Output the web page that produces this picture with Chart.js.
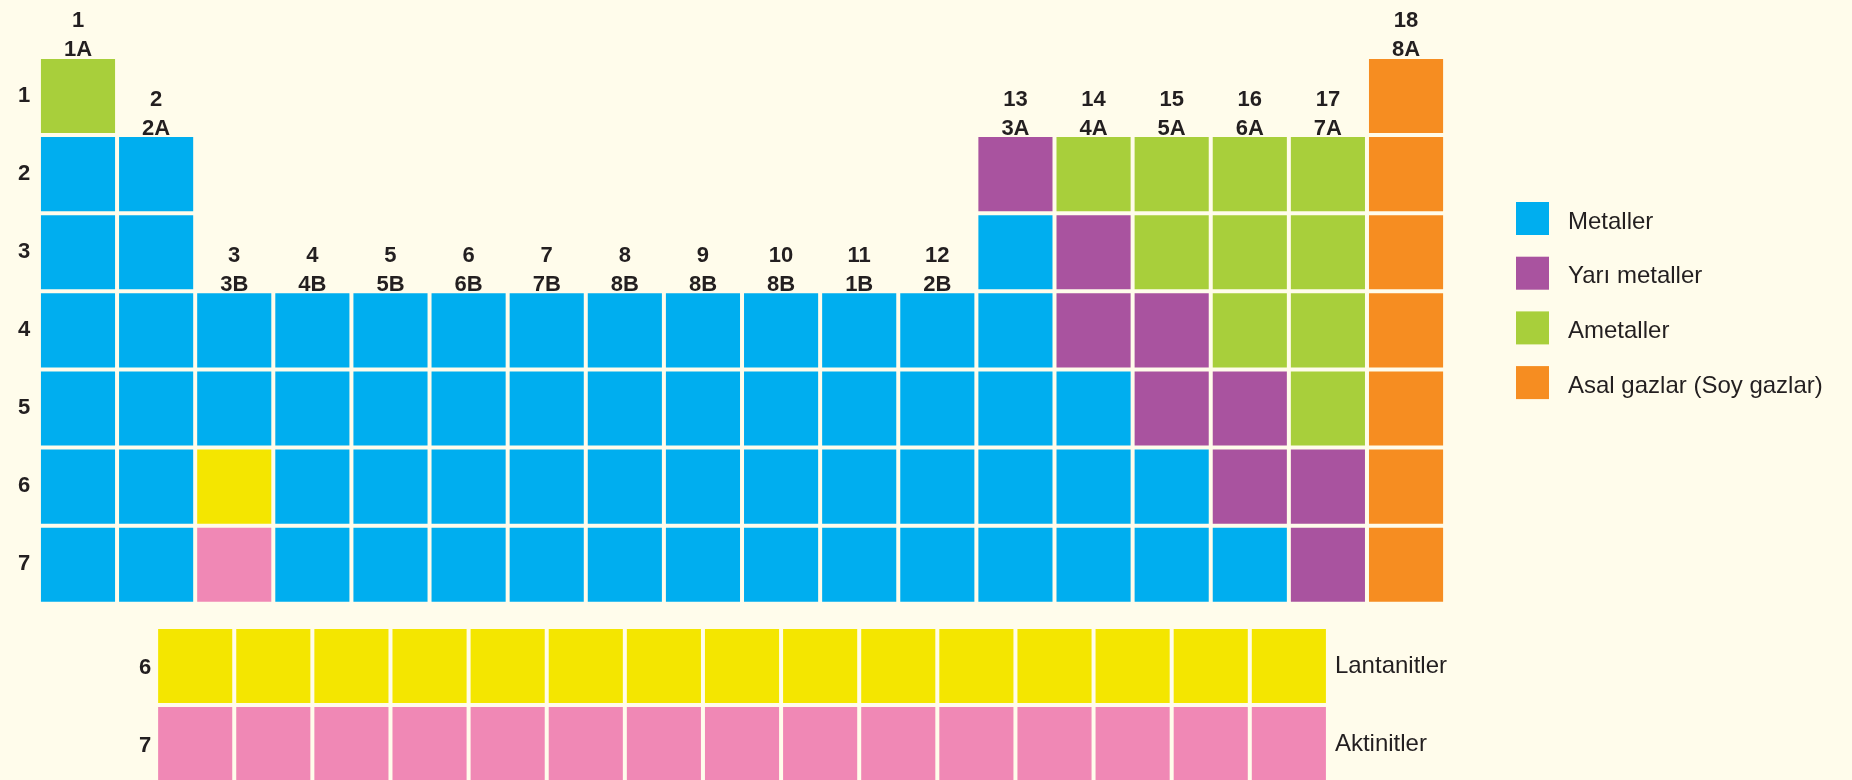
<!DOCTYPE html>
<html>
<head>
<meta charset="utf-8">
<script src="https://cdn.jsdelivr.net/npm/chart.js@4/dist/chart.umd.min.js"></script>
<style>
html,body{margin:0;padding:0;background:#FFFCEB;overflow:hidden;}
canvas{display:block;}
</style>
</head>
<body>
<canvas id="c" width="1852" height="780" style="width:1852px;height:780px"></canvas>
<script>
// ---------- DATA ----------
const groupNumbers = ['1','2','3','4','5','6','7','8','9','10','11','12','13','14','15','16','17','18'];
const groupSubLabels = ['1A','2A','3B','4B','5B','6B','7B','8B','8B','8B','1B','2B','3A','4A','5A','6A','7A','8A'];
const periodLabels = ['1','2','3','4','5','6','7'];
// M = Metaller, Y = Yarı metaller, N = Ametaller, G = Asal gazlar, L = Lantanitler, K = Aktinitler, . = boş
const period1 = 'N................G';
const period2 = 'MM..........YNNNNG';
const period3 = 'MM..........MYNNNG';
const period4 = 'MMMMMMMMMMMMMYYNNG';
const period5 = 'MMMMMMMMMMMMMMYYNG';
const period6 = 'MMLMMMMMMMMMMMMYYG';
const period7 = 'MMKMMMMMMMMMMMMMYG';
const lanthanides = 'LLLLLLLLLLLLLLL';
const actinides = 'KKKKKKKKKKKKKKK';
const fBlockPeriodLabels = ['6','7'];
const fBlockNames = ['Lantanitler','Aktinitler'];
const categoryCodes = ['M','Y','N','G','L','K'];
const categoryNames = ['Metaller','Yarı metaller','Ametaller','Asal gazlar (Soy gazlar)','Lantanitler','Aktinitler'];
const legendCount = 4;

// ---------- STYLE / LAYOUT ----------
const categoryColors = ['#00AEEF','#A9539F','#A8CF3B','#F68D21','#F4E600','#F088B5'];
const BG = '#FFFCEB';
const TEXT = '#231F20';
const FONT = "'Liberation Sans', Arial, Helvetica, sans-serif";
const PITCH = 78.12, GAP = 4;
const FIRST_X = 78, FIRST_Y = 96;           // pixel centre of group 1 / period 1
const W = 1852, H = 780;
const F_START = 2.5;                         // f-block first cell centre (in group units)
const F_ROWS = [1 + (666 - FIRST_Y) / PITCH, 1 + (744 - FIRST_Y) / PITCH];

const periods = [period1, period2, period3, period4, period5, period6, period7];
const fRows = [lanthanides, actinides];

const datasets = categoryCodes.map((code, ci) => {
  const pts = [];
  periods.forEach((row, pi) => row.split('').forEach((c, gi) => {
    if (c === code) pts.push({x: gi + 1, y: pi + 1});
  }));
  fRows.forEach((row, ri) => row.split('').forEach((c, i) => {
    if (c === code) pts.push({x: F_START + i, y: F_ROWS[ri]});
  }));
  return {
    label: categoryNames[ci],
    data: pts,
    backgroundColor: categoryColors[ci],
    borderWidth: 0,
    pointStyle: 'rect',
    pointRadius: (ctx) => {
      const s = ctx.chart.scales.x;
      if (!s) return 52.3;
      const p = Math.abs(s.getPixelForValue(2) - s.getPixelForValue(1));
      return (p - GAP) / Math.SQRT2;
    },
    pointHoverRadius: 0
  };
});

const xMin = 1 - FIRST_X / PITCH, xMax = xMin + W / PITCH;
const yMin = 1 - FIRST_Y / PITCH, yMax = yMin + H / PITCH;

const textPlugin = {
  id: 'ptext',
  beforeDraw(chart) {
    const c = chart.ctx;
    c.save(); c.fillStyle = BG; c.fillRect(0, 0, chart.width, chart.height); c.restore();
  },
  afterDraw(chart) {
    const c = chart.ctx, xs = chart.scales.x, ys = chart.scales.y;
    const pitchPx = Math.abs(ys.getPixelForValue(2) - ys.getPixelForValue(1));
    const half = (pitchPx - GAP) / 2;
    c.save();
    c.fillStyle = TEXT;
    c.textBaseline = 'alphabetic';
    // group headers
    c.font = 'bold 22px ' + FONT;
    c.textAlign = 'center';
    groupNumbers.forEach((g, gi) => {
      let top = periods.findIndex(r => r[gi] !== '.');
      const cy = ys.getPixelForValue(top + 1) - half;
      const cx = xs.getPixelForValue(gi + 1);
      c.fillText(g, cx, cy - 31.5);
      c.fillText(groupSubLabels[gi], cx, cy - 2.5);
    });
    // period labels
    periodLabels.forEach((p, pi) => {
      c.fillText(p, 24, ys.getPixelForValue(pi + 1) + 5.7);
    });
    // f-block period labels
    c.textAlign = 'right';
    fBlockPeriodLabels.forEach((p, ri) => {
      const left = xs.getPixelForValue(F_START) - half;
      c.fillText(p, left - 7, ys.getPixelForValue(F_ROWS[ri]) + 8);
    });
    // f-block names
    c.font = '24px ' + FONT;
    c.textAlign = 'left';
    fBlockNames.forEach((n, ri) => {
      const right = xs.getPixelForValue(F_START + fRows[ri].length - 1) + half;
      c.fillText(n, right + 9, ys.getPixelForValue(F_ROWS[ri]) + 7.3);
    });
    // legend
    const lx = 1516, ltop = 202, lstep = 54.7, lsz = 33;
    for (let i = 0; i < legendCount; i++) {
      const ds = chart.data.datasets[i];
      const t = ltop + i * lstep;
      c.fillStyle = ds.backgroundColor;
      c.fillRect(lx, t, lsz, lsz);
      c.fillStyle = TEXT;
      c.fillText(ds.label, lx + 52, t + lsz / 2 + 10);
    }
    c.restore();
  }
};

new Chart(document.getElementById('c'), {
  type: 'scatter',
  data: { datasets },
  options: {
    responsive: false,
    animation: false,
    events: [],
    devicePixelRatio: 1,
    layout: { padding: 0 },
    plugins: { legend: { display: false }, tooltip: { enabled: false } },
    scales: {
      x: { type: 'linear', min: xMin, max: xMax, display: false },
      y: { type: 'linear', reverse: true, min: yMin, max: yMax, display: false }
    }
  },
  plugins: [textPlugin]
});
</script>
</body>
</html>
